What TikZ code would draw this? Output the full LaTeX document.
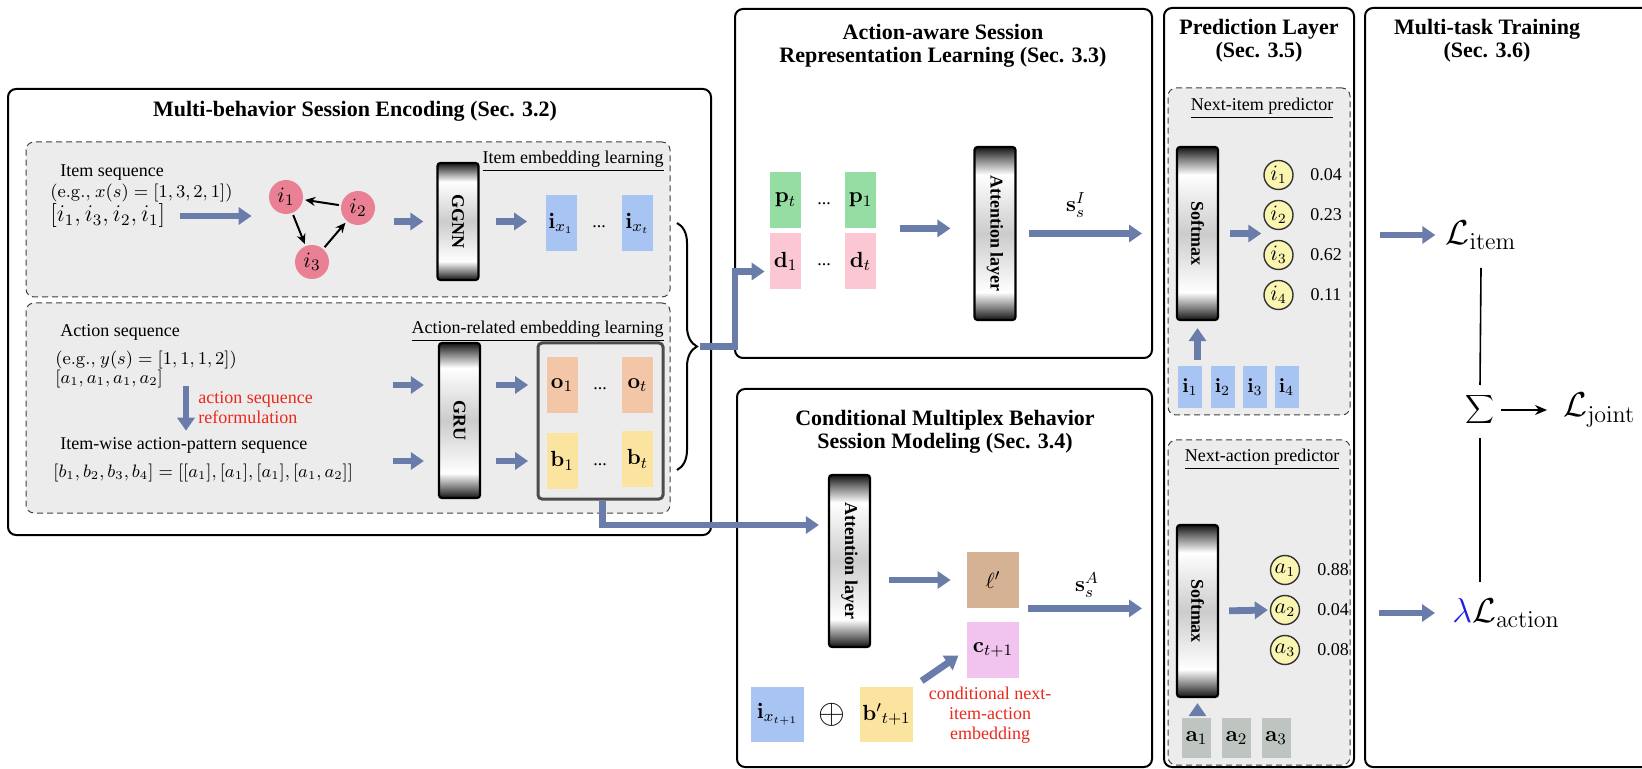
\documentclass[tikz,border=0pt]{standalone}
\usepackage[no-math]{fontspec}
\setmainfont{Liberation Serif}
\usetikzlibrary{arrows.meta,calc,decorations.pathreplacing,shapes.geometric}

\definecolor{flow}{RGB}{106,125,170}
\definecolor{embblue}{RGB}{168,196,242}
\definecolor{embgreen}{RGB}{150,221,164}
\definecolor{embpink}{RGB}{250,199,210}
\definecolor{emborange}{RGB}{244,198,168}
\definecolor{embyellow}{RGB}{250,228,160}
\definecolor{elltan}{RGB}{214,178,148}
\definecolor{cviolet}{RGB}{240,196,238}
\definecolor{grayemb}{RGB}{190,197,192}
\definecolor{nodepink}{RGB}{234,128,148}
\definecolor{nodeyellow}{RGB}{250,246,178}
\definecolor{panelgray}{RGB}{236,236,236}
\definecolor{notered}{RGB}{235,40,30}
\definecolor{lamblue}{RGB}{30,30,230}

% dark ends, white bands near the ends and a grey middle: the layer blocks
% (TikZ maps the 25bp..75bp part of a shading onto the shaded path)
\pgfdeclareverticalshading{layershade}{100bp}{color(0bp)=(black!92); color(25bp)=(black!92); color(28.5bp)=(black!50); color(33bp)=(white); color(50bp)=(black!20); color(67bp)=(white); color(71.5bp)=(black!50); color(75bp)=(black!92); color(100bp)=(black!92)}

\tikzset{
  outer/.style={draw=black, line width=1pt, rounded corners=4pt, fill=white, inner sep=0pt},
  panel/.style={draw=black!75, dash pattern=on 3pt off 2pt, line width=0.5pt, rounded corners=4pt, fill=panelgray, inner sep=0pt},
  title/.style={font=\fontsize{11}{11.5}\selectfont\bfseries, align=center, inner sep=0pt},
  txt/.style={font=\fontsize{9}{11}\selectfont, inner sep=0pt},
  notetxt/.style={font=\fontsize{9}{10}\selectfont, text=notered, inner sep=0pt},
  emb/.style={minimum width=15.5pt, minimum height=28pt, inner sep=0pt, font=\fontsize{11}{13}\selectfont},
  sqemb/.style={minimum width=26pt, minimum height=28pt, inner sep=0pt, font=\fontsize{11}{13}\selectfont},
  predemb/.style={minimum width=12pt, minimum height=21pt, inner sep=0pt, fill=embblue, font=\fontsize{10}{12}\selectfont},
  actemb/.style={minimum width=14.5pt, minimum height=20pt, inner sep=0pt, fill=grayemb, font=\fontsize{11}{13}\selectfont},
  dotstxt/.style={font=\fontsize{9}{11}\selectfont, inner sep=0pt},
  layer/.style={draw=black, line width=1.1pt, rounded corners=1.5pt, shade, shading=layershade, minimum width=20.5pt, inner sep=0pt},
  layertext/.style={rotate=-90, font=\fontsize{9}{11}\selectfont\bfseries, inner sep=0pt},
  gnode/.style={circle, fill=nodepink, minimum size=17pt, inner sep=0pt, font=\fontsize{11}{13}\selectfont},
  ynode/.style={circle, draw=black!80, line width=0.7pt, fill=nodeyellow, minimum size=14.5pt, inner sep=0pt, font=\fontsize{10.5}{12}\selectfont},
  garrow/.style={line width=1pt, -{Stealth[length=5pt,width=4.5pt]}, shorten <=1pt, shorten >=1pt},
  barrow/.style={draw=flow, line width=3.4pt, -{Triangle[length=6.5pt,width=8.5pt]}},
  tline/.style={line width=0.8pt},
  tarrow/.style={line width=0.8pt, -{Stealth[length=6pt,width=5pt]}},
  bigmath/.style={font=\fontsize{17}{20}\selectfont, inner sep=0pt},
  mathlab/.style={font=\fontsize{11}{13}\selectfont, inner sep=0pt},
}

\begin{document}
\begin{tikzpicture}[x=0.5pt, y=-0.5pt]
\useasboundingbox (0,0) rectangle (1642,769);

% ---------- frames of the five stages ----------
\node[outer, minimum width=351.5pt, minimum height=223pt] (encbox) at (359.5,312) {};
\node[outer, minimum width=208.5pt, minimum height=174.5pt] (reprbox) at (943.5,183.5) {};
\node[outer, minimum width=207.5pt, minimum height=189pt] (condbox) at (944.5,578) {};
\node[outer, minimum width=95pt, minimum height=379.5pt] (predbox) at (1259,387.5) {};
\node[outer, minimum width=147.5pt, minimum height=379.5pt] (taskbox) at (1512.5,387.5) {};

\node[title] (enctitle) at (355,111) {Multi-behavior Session Encoding (Sec. 3.2)};
\node[title] (reprtitle) at (943,46) {Action-aware Session\\Representation Learning (Sec. 3.3)};
\node[title] (condtitle) at (945,432) {Conditional Multiplex Behavior\\Session Modeling (Sec. 3.4)};
\node[title] (predtitle) at (1259,41) {Prediction Layer\\(Sec. 3.5)};
\node[title] (tasktitle) at (1487,41) {Multi-task Training\\(Sec. 3.6)};

% ---------- dashed sub-panels ----------
\node[panel, minimum width=322pt, minimum height=77.5pt] (itempanel) at (348,219.5) {};
\node[panel, minimum width=322pt, minimum height=105pt] (actpanel) at (348,408) {};
\node[panel, minimum width=91pt, minimum height=163.5pt] (nipanel) at (1259,251.5) {};
\node[panel, minimum width=91pt, minimum height=162.5pt] (napanel) at (1259,602.5) {};

\node[txt, anchor=east] (itemlab) at (664,161) {\underline{Item embedding learning}};
\node[txt, anchor=east] (actlab) at (664,331) {\underline{Action-related embedding learning}};
\node[txt] (nilab) at (1262,108) {\underline{Next-item predictor}};
\node[txt] (nalab) at (1262,459) {\underline{Next-action predictor}};

% ---------- item embedding learning ----------
\node[txt, anchor=west] (itemseq) at (60,173) {Item sequence};
\node[txt, anchor=west] (itemeg) at (50,193) {$(\mathrm{e.g.,}\ x(s)=[1,3,2,1])$};
\node[txt, anchor=west, font=\fontsize{11.5}{13}\selectfont] (iseq) at (50,216) {$[i_1,i_3,i_2,i_1]$};

\node[gnode] (g1) at (286,197) {$i_1$};
\node[gnode] (g2) at (358,208) {$i_2$};
\node[gnode] (g3) at (312,262) {$i_3$};
\draw[garrow] (g2) -- (g1);
\draw[garrow] (g1) -- (g3);
\draw[garrow] (g3) -- (g2);

\node[layer, minimum height=58.5pt] (ggnn) at (458,221.5) {};
\node[layertext] (ggnntxt) at (ggnn) {GGNN};

\node[emb, fill=embblue] (ix1) at (561,223.5) {$\mathbf{i}_{x_1}$};
\node[dotstxt] (idots) at (599,227) {...};
\node[emb, fill=embblue] (ixt) at (637.5,223.5) {$\mathbf{i}_{x_t}$};

\draw[barrow, shorten <=7pt, shorten >=8.5pt] (iseq.east) -- (iseq.east -| g1.west);
\draw[barrow, shorten <=9.5pt, shorten >=6.5pt] (g2.east |- ggnn.west) -- (ggnn.west);
\draw[barrow, shorten <=8pt, shorten >=9pt] (ggnn.east) -- (ggnn.east -| ix1.west);

% ---------- action-related embedding learning ----------
\node[txt, anchor=west] (actseq) at (60,332) {Action sequence};
\node[txt, anchor=west] (acteg) at (55,360) {$(\mathrm{e.g.,}\ y(s)=[1,1,1,2])$};
\node[txt, anchor=west] (aseq) at (55,379) {$[a_1,a_1,a_1,a_2]$};
\node[notetxt, anchor=west, align=left] (reform) at (198,407.5) {action sequence\\reformulation};
\node[txt, anchor=west] (iwise) at (60,445) {Item-wise action-pattern sequence};
\node[txt, anchor=west] (bseq) at (53,473) {$[b_1,b_2,b_3,b_4]=[[a_1],[a_1],[a_1],[a_1,a_2]]$};
\coordinate (reftop) at (186,386);
\draw[barrow, shorten >=3pt] (reftop) -- (reftop |- iwise.north);

\node[layer, minimum height=77.5pt] (gru) at (459.5,420.5) {};
\node[layertext] (grutxt) at (gru) {GRU};
\coordinate (gin1) at (393,385);
\coordinate (gin2) at (393,461);
\draw[barrow, shorten >=7pt] (gin1) -- (gin1 -| gru.west);
\draw[barrow, shorten >=7pt] (gin2) -- (gin2 -| gru.west);

\node[draw=black!70, line width=1.5pt, rounded corners=2pt, fill=panelgray, minimum width=62.5pt, minimum height=78pt, inner sep=0pt] (obframe) at (600.5,421) {};
\node[emb, fill=emborange] (o1) at (562,385) {$\mathbf{o}_1$};
\node[dotstxt] (odots) at (600,389) {...};
\node[emb, fill=emborange] (ot) at (637.5,385) {$\mathbf{o}_t$};
\node[emb, fill=embyellow] (b1) at (562,461) {$\mathbf{b}_1$};
\node[dotstxt] (bdots) at (600,465) {...};
\node[emb, fill=embyellow] (bt) at (637.5,459) {$\mathbf{b}_t$};
\draw[barrow, shorten <=7.5pt, shorten >=9pt] (gru.east |- o1.west) -- (o1.west);
\draw[barrow, shorten <=7.5pt, shorten >=9pt] (gru.east |- b1.west) -- (b1.west);

% brace gathering both embedding streams
\draw[decorate, decoration={brace, amplitude=10pt}, line width=1pt] (677,223) -- (677,470);
\coordinate (bracetip) at (700,346.5);
\coordinate (bendA) at (735,346.5);

% ---------- action-aware session representation ----------
\node[emb, fill=embgreen] (pt) at (785.5,200) {$\mathbf{p}_t$};
\node[dotstxt] (pdots) at (824,204) {...};
\node[emb, fill=embgreen] (p1) at (860.5,200) {$\mathbf{p}_1$};
\node[emb, fill=embpink] (d1) at (785.5,261.5) {$\mathbf{d}_1$};
\node[dotstxt] (ddots) at (824,265) {...};
\node[emb, fill=embpink] (dt) at (860.5,261.5) {$\mathbf{d}_t$};

\node[layer, minimum height=86.5pt] (att1) at (995,233.5) {};
\node[layertext] (att1txt) at (att1) {Attention layer};

\draw[barrow, shorten >=2.5pt] (bracetip) -- (bendA) |- ([yshift=-5pt]d1.west);
\draw[barrow, shorten <=12pt, shorten >=11.5pt] (p1.south east) -- (p1.south east -| att1.west);
\draw[barrow, shorten <=6pt, shorten >=10.5pt] (att1.east) -- (att1.east -| predbox.west);
\node[mathlab] (sI) at (1076,205) {$\mathbf{s}_s^I$};

% ---------- conditional multiplex behavior modeling ----------
\node[layer, minimum height=86pt] (att2) at (849.5,561) {};
\node[layertext] (att2txt) at (att2) {Attention layer};
\draw[barrow, shorten >=4.5pt] ([xshift=1pt]obframe.south) |- ([yshift=18pt]att2.west);

\node[sqemb, fill=elltan] (ell) at (993,580) {$\ell'$};
\node[sqemb, fill=cviolet] (cbox) at (993,650) {$\mathbf{c}_{t+1}$};
\draw[barrow, shorten <=9pt, shorten >=8pt] (att2.east |- ell.west) -- (ell.west);
\draw[barrow, shorten <=4.5pt, shorten >=10.5pt] (ell.south east) -- (ell.south east -| predbox.west);
\node[mathlab] (sA) at (1087,585) {$\mathbf{s}_s^A$};

\node[minimum width=26.5pt, minimum height=27.5pt, inner sep=0pt, fill=embblue, font=\fontsize{11}{13}\selectfont] (inext) at (777.5,714.5) {$\mathbf{i}_{x_{t+1}}$};
\node[inner sep=0pt, font=\fontsize{16}{18}\selectfont] (oplus) at (832,715) {$\oplus$};
\node[minimum width=26.5pt, minimum height=27.5pt, inner sep=0pt, fill=embyellow, font=\fontsize{11}{13}\selectfont] (bnext) at (886.5,714.5) {${\mathbf{b}'}_{t+1}$};
\draw[barrow, shorten <=5pt, shorten >=5pt] (bnext.north east) -- (cbox.west);
\node[notetxt, align=center] (cnote) at (990,715) {conditional next-\\item-action\\embedding};

% ---------- prediction layer ----------
\node[layer, minimum height=86.5pt] (sm1) at (1197.5,233.5) {};
\node[layertext] (sm1txt) at (sm1) {Softmax};
\node[ynode] (ci1) at (1278.5,175) {$i_1$};
\node[ynode] (ci2) at (1278.5,215) {$i_2$};
\node[ynode] (ci3) at (1278.5,255) {$i_3$};
\node[ynode] (ci4) at (1278.5,295) {$i_4$};
\node[txt] (pi1) at (1326,175) {0.04};
\node[txt] (pi2) at (1326,215) {0.23};
\node[txt] (pi3) at (1326,255) {0.62};
\node[txt] (pi4) at (1326,295) {0.11};
\draw[barrow, shorten <=5.5pt, shorten >=1pt] (sm1.east) -- (sm1.east -| ci2.west);
\node[predemb] (ib1) at (1190,387) {$\mathbf{i}_1$};
\node[predemb] (ib2) at (1222.5,387) {$\mathbf{i}_2$};
\node[predemb] (ib3) at (1255,387) {$\mathbf{i}_3$};
\node[predemb] (ib4) at (1286.5,387) {$\mathbf{i}_4$};
\draw[barrow, shorten <=3pt, shorten >=3.5pt] (sm1.south |- ib1.north) -- (sm1.south);

\node[layer, minimum height=86pt] (sm2) at (1197.5,611) {};
\node[layertext] (sm2txt) at (sm2) {Softmax};
\node[ynode] (ca1) at (1285,570) {$a_1$};
\node[ynode] (ca2) at (1285,610) {$a_2$};
\node[ynode] (ca3) at (1285,650) {$a_3$};
\node[txt] (pa1) at (1333,570) {0.88};
\node[txt] (pa2) at (1333,610) {0.04};
\node[txt] (pa3) at (1333,650) {0.08};
\draw[barrow, shorten <=5pt, shorten >=1pt] (sm2.east) -- (ca2.west);
\node[actemb] (ab1) at (1196.5,738) {$\mathbf{a}_1$};
\node[actemb] (ab2) at (1236.5,738) {$\mathbf{a}_2$};
\node[actemb] (ab3) at (1276,738) {$\mathbf{a}_3$};
\draw[barrow, shorten <=1pt, shorten >=2.5pt] (sm2.south |- ab1.north) -- (sm2.south);

% ---------- multi-task training ----------
\node[bigmath] (litem) at (1481,235) {$\mathcal{L}_{\mathrm{item}}$};
\node[bigmath, font=\fontsize{15}{18}\selectfont] (sigma) at (1480,410) {$\displaystyle\sum$};
\node[bigmath, anchor=west] (ljoint) at (1563,410) {$\mathcal{L}_{\mathrm{joint}}$};
\node[bigmath, anchor=west] (lact) at (1452,613) {${\color{lamblue}\lambda}\mathcal{L}_{\mathrm{action}}$};

\draw[barrow, shorten <=12.5pt, shorten >=5pt] (predbox.east |- litem.west) -- (litem.west);
\draw[barrow, shorten <=12pt, shorten >=8.5pt] (predbox.east |- lact.west) -- (lact.west);
\draw[tline] ($(litem.center)+(0,33)$) -- ($(sigma.center)+(0,-25)$);
\draw[tline] ($(sigma.center)+(0,28)$) -- ($(sigma.center |- lact.center)+(0,-31)$);
\draw[tarrow, shorten <=3pt, shorten >=8pt] (sigma.east) -- (ljoint.west);

\end{tikzpicture}
\end{document}
